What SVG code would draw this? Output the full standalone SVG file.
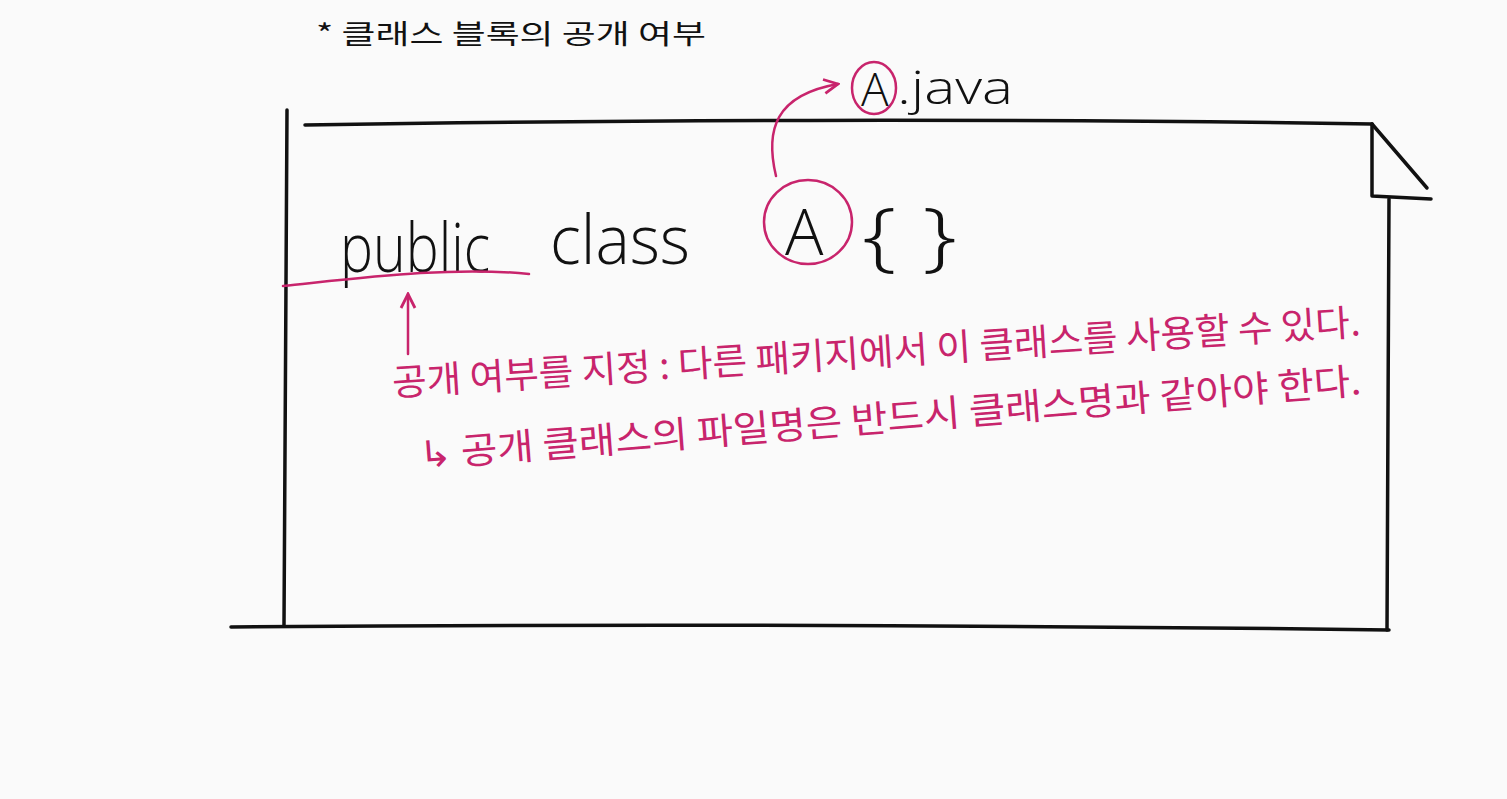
<svg xmlns="http://www.w3.org/2000/svg" width="1507" height="799" viewBox="0 0 1507 799">
<defs>
<style>
.ink{fill:none;stroke:#111;stroke-width:3.5;stroke-linecap:round;stroke-linejoin:round}
.pink{fill:none;stroke:#c8246c;stroke-width:2.5;stroke-linecap:round;stroke-linejoin:round}
.code{font-family:"Open Sans","Liberation Sans",sans-serif;font-weight:300;fill:#111}
.ko{font-family:"Noto Sans CJK KR",sans-serif;fill:#c8246c}
.title{font-family:"Noto Sans CJK KR",sans-serif;fill:#111}
</style>
<marker id="ah" viewBox="0 0 10 10" refX="9" refY="5" markerWidth="7" markerHeight="7" orient="auto" markerUnits="strokeWidth">
<path d="M1,1 L9,5 L1,9" fill="none" stroke="#c8246c" stroke-width="1.6"/>
</marker>
</defs>
<rect width="1507" height="799" fill="#fafafa"/>

<g id="title">
<text class="title" x="316" y="44" font-size="27" textLength="390" lengthAdjust="spacingAndGlyphs">*  클래스  블록의  공개 여부</text>
</g>

<g id="file">
<path class="ink" d="M287,110 L284,625"/>
<path class="ink" d="M305,125 C600,120 1000,118 1372,124"/>
<path class="ink" d="M1372,124 L1427,188"/>
<path class="ink" d="M1372,124 L1372,196 L1431,199"/>
<path class="ink" d="M1389,199 L1387,630"/>
<path class="ink" d="M231,627 C600,624 1000,625 1389,630"/>
</g>

<g id="code">
<text class="code" x="340" y="272" font-size="68" textLength="150" lengthAdjust="spacingAndGlyphs">public</text>
<path class="pink" d="M283,286 C360,278 450,266 529,274"/>
<text class="code" x="550" y="264" font-size="68" textLength="140" lengthAdjust="spacingAndGlyphs">class</text>
<ellipse class="pink" cx="808" cy="222" rx="44" ry="42"/>
<text class="code" x="785" y="255" font-size="64">A</text>
<text class="code" x="862" y="262" font-size="76" textLength="95" lengthAdjust="spacingAndGlyphs">{ }</text>
</g>

<g id="javafile">
<ellipse class="pink" cx="874" cy="88" rx="22" ry="26"/>
<text class="code" x="861" y="106" font-size="46">A</text>
<text class="code" x="897" y="104" font-size="46" textLength="116" lengthAdjust="spacingAndGlyphs">.java</text>
</g>

<g id="connectors">
<path class="pink" d="M776,176 C765,130 775,95 838,84" marker-end="url(#ah)"/>
<path class="pink" d="M408,354 L408,294" marker-end="url(#ah)"/>
</g>

<g id="notes">
<text class="ko" x="393" y="396" font-size="37" transform="rotate(-3.6 393 396)" textLength="970" lengthAdjust="spacingAndGlyphs">공개 여부를 지정 : 다른 패키지에서 이 클래스를 사용할 수 있다.</text>
<text class="ko" x="420" y="468" font-size="37" transform="rotate(-4.5 420 468)" textLength="945" lengthAdjust="spacingAndGlyphs">↳ 공개 클래스의 파일명은 반드시 클래스명과 같아야 한다.</text>
</g>
</svg>
